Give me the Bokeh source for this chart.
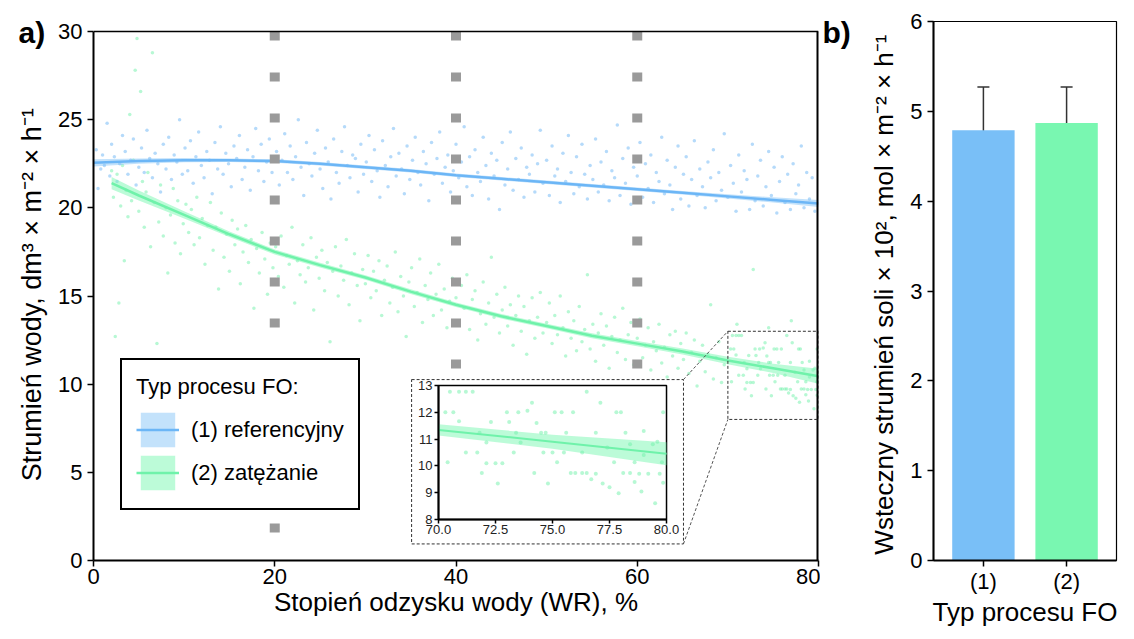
from bokeh.plotting import figure
from bokeh.layouts import row
from bokeh.models import (Range1d, LinearAxis, FixedTicker, PrintfTickFormatter,
                          Legend, LegendItem, Whisker, TeeHead, Title,
                          ColumnDataSource, FactorRange)
from bokeh.embed import file_html
from bokeh.resources import INLINE

FONT = "Liberation Sans"

# ---------------- data ----------------
x_ticks = [0, 20, 40, 60, 80]
y_ticks = [0, 5, 10, 15, 20, 25, 30]
vline_x = [20, 40, 60]

blue_pts = [
    (0.3,23.3),(0.5,21.1),(0.8,22.2),(1.0,23.0),(1.2,22.4),(1.5,24.8),(1.8,21.8),(2.0,23.6),(2.3,22.9),(2.6,21.5),
    (2.9,22.5),(3.2,24.1),(3.5,23.2),(3.8,21.9),(4.1,22.7),(4.4,23.9),(4.7,21.3),(5.0,22.3),(5.3,23.4),(5.6,22.0),
    (5.9,24.4),(6.2,22.8),(6.5,21.7),(6.8,23.1),(7.1,22.5),(7.4,20.9),(7.7,23.6),(8.0,22.2),(8.3,24.0),(8.6,21.6),
    (8.9,23.0),(9.2,22.6),(9.5,25.0),(9.8,21.9),(10.1,23.4),(10.4,22.1),(10.7,23.8),(11.0,21.4),(11.3,22.9),(11.6,24.3),
    (11.9,22.4),(12.2,21.7),(12.5,23.2),(12.8,22.7),(13.1,20.8),(13.4,23.7),(13.7,22.2),(14.0,24.6),(14.3,21.9),(14.6,23.1),
    (14.9,22.5),(15.2,21.2),(15.5,23.5),(15.8,22.8),(16.1,24.1),(16.4,21.6),(16.7,22.3),(17.0,23.3),(17.3,21.0),(17.6,22.9),
    (17.9,24.5),(18.2,22.1),(18.5,23.6),(18.8,21.5),(19.1,22.6),(19.4,23.9),(19.7,22.0),(20.2,23.2),(20.5,21.3),(20.8,22.7),
    (21.1,24.2),(21.4,22.0),(21.7,23.5),(22.0,21.6),(22.3,22.9),(22.6,25.0),(22.9,22.3),(23.2,20.7),(23.5,23.7),(23.8,22.5),
    (24.1,21.8),(24.4,23.1),(24.7,24.4),(25.0,22.2),(25.3,21.1),(25.6,23.4),(25.9,22.6),(26.2,20.5),(26.5,23.9),(26.8,22.0),
    (27.1,21.4),(27.4,23.2),(27.7,24.6),(28.0,22.4),(28.3,21.7),(28.6,23.0),(28.9,22.8),(29.2,20.9),(29.5,23.6),(29.8,21.9),
    (30.1,22.6),(30.4,24.1),(30.7,21.5),(31.0,23.3),(31.3,22.1),(31.6,20.6),(31.9,23.8),(32.2,22.4),(32.5,21.2),(32.8,22.9),
    (33.1,24.5),(33.4,21.8),(33.7,23.1),(34.0,22.2),(34.3,20.8),(34.6,23.5),(34.9,21.6),(35.2,22.7),(35.5,24.0),(35.8,22.0),
    (36.1,21.3),(36.4,23.2),(36.7,22.5),(37.0,20.4),(37.3,23.7),(37.6,21.9),(37.9,22.8),(38.2,24.3),(38.5,21.4),(38.8,22.3),
    (39.1,23.0),(39.4,20.9),(39.7,22.1),(40.0,23.6),(40.3,21.7),(40.6,22.6),(40.9,24.6),(41.2,21.2),(41.5,22.9),(41.8,20.7),
    (42.1,23.3),(42.4,22.0),(42.7,21.5),(43.0,24.0),(43.3,22.4),(43.6,20.5),(43.9,23.1),(44.2,21.8),(44.5,22.7),(44.8,19.9),
    (45.1,23.7),(45.4,21.3),(45.7,22.2),(46.0,24.3),(46.3,21.0),(46.6,22.8),(46.9,21.6),(47.2,23.4),(47.5,20.6),(47.8,22.3),
    (48.1,21.9),(48.4,23.0),(48.7,20.9),(49.0,22.5),(49.3,24.4),(49.6,21.4),(50.0,22.7),(50.3,20.7),(50.6,23.5),(50.9,21.8),
    (51.2,22.2),(51.5,20.3),(51.8,23.1),(52.1,21.5),(52.4,24.1),(52.7,22.0),(53.0,20.8),(53.3,22.9),(53.6,21.2),(53.9,23.6),
    (54.2,21.9),(54.5,20.5),(54.8,22.4),(55.1,21.6),(55.4,23.9),(55.7,20.9),(56.0,22.6),(56.3,21.3),(56.6,23.2),(56.9,20.4),
    (57.2,22.1),(57.5,21.7),(57.8,24.7),(58.1,20.7),(58.4,22.8),(58.7,21.4),(59.0,23.4),(59.3,20.2),(59.6,22.3),(60.0,21.8),
    (60.3,23.7),(60.6,20.6),(60.9,22.5),(61.2,21.1),(61.5,23.0),(61.8,20.3),(62.1,22.0),(62.4,21.5),(62.7,24.0),(63.0,20.8),
    (63.3,22.7),(63.6,21.3),(63.9,19.9),(64.2,22.3),(64.5,23.5),(64.8,20.5),(65.1,21.9),(65.4,22.9),(65.7,20.1),(66.0,21.6),
    (66.3,23.8),(66.6,20.7),(66.9,22.2),(67.2,21.2),(67.5,20.0),(67.8,22.6),(68.1,21.7),(68.4,23.3),(68.7,20.4),(69.0,22.0),
    (69.3,21.0),(69.6,24.2),(70.0,20.6),(70.3,22.4),(70.6,21.4),(70.9,19.8),(71.2,23.0),(71.5,20.9),(71.8,22.1),(72.1,21.6),
    (72.4,19.9),(72.7,23.6),(73.0,20.4),(73.3,21.8),(73.6,22.7),(73.9,20.1),(74.2,21.2),(74.5,23.2),(74.8,20.7),(75.1,22.3),
    (75.4,19.7),(75.7,21.5),(76.0,22.9),(76.3,20.3),(76.6,21.9),(76.9,19.9),(77.2,22.5),(77.5,20.8),(77.8,21.3),(78.1,23.5),
    (78.4,20.0),(78.7,22.0),(79.0,20.5),(79.3,21.7),(79.6,19.8),
]

green_pts = [
    (2.0,22.1),(2.2,20.6),(2.4,12.7),(2.6,21.9),(2.8,14.6),(3.0,20.1),(3.2,22.4),(3.4,17.0),(3.6,21.0),(3.8,19.5),
    (4.0,25.3),(4.2,20.4),(4.4,22.7),(4.6,27.8),(4.8,29.6),(5.0,19.8),(5.2,26.6),(5.4,21.5),(5.6,18.9),(5.8,20.9),
    (6.0,22.0),(6.3,17.8),(6.5,28.8),(6.7,20.3),(7.0,12.3),(7.2,19.2),(7.4,21.3),(7.7,18.4),(8.0,20.0),(8.2,16.3),
    (8.5,19.6),(8.8,21.1),(9.0,18.0),(9.3,20.4),(9.6,17.4),(9.9,19.1),(10.2,20.2),(10.5,18.6),(10.8,19.9),(11.1,17.9),
    (11.4,20.6),(11.7,18.3),(12.0,19.4),(12.3,16.8),(12.6,19.0),(12.9,20.3),(13.2,17.6),(13.5,18.9),(13.8,15.4),(14.1,19.7),
    (14.4,17.2),(14.7,18.5),(15.0,16.4),(15.3,19.3),(15.6,17.9),(15.9,18.8),(16.2,15.7),(16.5,17.5),(16.8,19.0),(17.1,16.9),
    (17.4,18.2),(17.7,14.3),(18.0,17.7),(18.3,16.3),(18.6,18.6),(18.9,17.1),(19.2,15.1),(19.5,18.0),(19.8,16.6),(20.1,17.8),
    (20.4,16.1),(20.7,18.4),(21.0,15.5),(21.3,17.3),(21.6,16.8),(21.9,18.9),(22.2,14.6),(22.5,17.0),(22.8,16.2),(23.1,17.9),
    (23.4,15.8),(23.7,16.6),(24.0,18.3),(24.3,14.2),(24.6,17.2),(24.9,16.0),(25.2,17.6),(25.5,15.3),(25.8,16.9),(26.1,12.4),
    (26.4,16.4),(26.7,17.8),(27.0,15.0),(27.3,16.7),(27.6,15.9),(27.9,18.2),(28.2,14.5),(28.5,16.3),(28.8,17.4),(29.1,15.6),
    (29.4,13.6),(29.7,16.5),(30.0,15.7),(30.3,17.3),(30.6,14.9),(30.9,16.4),(31.2,15.3),(31.5,17.0),(31.8,13.9),(32.1,15.9),
    (32.4,16.7),(32.7,14.6),(33.0,15.5),(33.3,17.5),(33.6,14.1),(33.9,16.1),(34.2,15.0),(34.5,12.7),(34.8,15.8),(35.1,16.6),
    (35.4,14.4),(35.7,15.2),(36.0,17.1),(36.3,13.5),(36.6,15.6),(36.9,14.8),(37.2,16.3),(37.5,13.9),(37.8,15.1),(38.1,16.8),
    (38.4,14.2),(38.7,15.4),(39.0,13.2),(39.3,14.7),(39.6,16.0),(40.0,14.9),(40.3,13.6),(40.6,15.6),(40.9,14.3),(41.2,16.2),
    (41.5,13.1),(41.8,14.8),(42.1,15.3),(42.4,12.5),(42.7,14.0),(43.0,15.8),(43.3,13.4),(43.6,14.6),(43.9,17.2),(44.2,13.8),
    (44.5,15.1),(44.8,12.9),(45.1,14.2),(45.4,15.5),(45.7,13.3),(46.0,14.5),(46.3,12.2),(46.6,13.9),(46.9,15.0),(47.2,13.0),
    (47.5,14.4),(47.8,11.7),(48.1,13.6),(48.4,14.9),(48.7,12.6),(49.0,13.8),(49.3,15.2),(49.6,12.9),(50.0,13.5),(50.3,14.6),
    (50.6,12.3),(50.9,13.9),(51.2,12.8),(51.5,15.0),(51.8,13.2),(52.1,11.6),(52.4,14.1),(52.7,12.6),(53.0,13.6),(53.3,11.9),
    (53.6,14.4),(53.9,12.4),(54.2,13.1),(54.5,16.2),(54.8,12.0),(55.1,13.4),(55.4,11.3),(55.7,12.9),(56.0,14.0),(56.3,12.2),
    (56.6,13.3),(56.9,10.9),(57.2,12.7),(57.5,13.8),(57.8,11.8),(58.1,12.5),(58.4,14.3),(58.7,11.4),(59.0,12.8),(59.3,13.5),
    (59.6,11.1),(60.0,12.6),(60.3,13.7),(60.6,11.5),(60.9,12.2),(61.2,13.2),(61.5,10.8),(61.8,12.4),(62.1,11.9),(62.4,13.4),
    (62.7,11.2),(63.0,12.1),(63.3,10.4),(63.6,12.8),(63.9,11.6),(64.2,13.0),(64.5,10.9),(64.8,12.3),(65.1,11.4),(65.4,12.9),
    (65.7,10.6),(66.0,11.8),(66.3,12.5),(66.6,9.9),(66.9,11.3),(67.2,12.2),(67.5,10.7),(67.8,11.7),(68.1,14.5),(68.4,10.3),
    (68.7,11.5),(69.0,12.4),(69.3,10.1),(69.6,11.1),
    (70.5,12.76),(70.9,12.76),(71.2,12.76),(71.5,12.76),(70.3,12.0),(70.65,12.0),(70.9,11.66),(72.3,11.63),(71.8,11.23),
    (73.0,12.0),(73.5,12.0),(73.9,12.05),(74.1,12.35),(75.1,12.0),(75.4,12.0),(75.9,12.0),(76.5,12.76),(77.1,12.35),
    (77.8,12.0),(78.0,12.0),(79.85,12.0),(74.3,11.6),(73.1,11.63),(73.4,11.23),(74.5,11.23),(74.7,11.23),(75.6,11.23),
    (76.9,11.23),(78.2,11.23),(79.0,11.3),(71.2,10.5),(71.7,10.5),(70.4,10.13),(72.1,10.1),(72.5,10.1),(72.8,10.1),
    (73.3,10.5),(73.6,10.87),(72.1,10.87),(74.6,10.5),(75.0,10.5),(75.8,9.73),(76.0,9.73),(76.3,9.73),(76.5,9.73),
    (76.9,9.7),(77.7,10.13),(78.1,9.73),(78.4,9.73),(78.6,10.13),(78.6,9.4),(78.8,9.7),(79.2,9.7),(79.7,9.7),(71.9,9.73),
    (74.2,9.73),(72.6,9.34),(74.8,9.34),(76.7,9.5),(77.2,9.34),(77.5,9.2),(77.9,8.98),(78.9,9.04),(79.5,8.6),(79.85,9.37),
    (75.5,10.5),(75.2,10.13),(76.3,10.5),(77.4,10.68),(78.4,10.8),(79.4,10.8),(79.6,10.9),(79.8,10.13),(79.0,10.4),
    (72.8,16.5),(71.0,13.4),(74.5,13.2),(77.0,13.6),
]

blue_fit_x = [0, 5, 10, 15, 20, 25, 30, 35, 40, 45, 50, 55, 60, 65, 70, 75, 80]
blue_fit = [22.55, 22.65, 22.70, 22.70, 22.65, 22.50, 22.30, 22.10, 21.85, 21.65, 21.45, 21.25, 21.05, 20.85, 20.65, 20.45, 20.25]
blue_ci = [0.20, 0.15, 0.12, 0.10, 0.10, 0.10, 0.10, 0.10, 0.10, 0.10, 0.10, 0.10, 0.10, 0.10, 0.12, 0.15, 0.20]

green_fit_x = [2, 5, 10, 15, 20, 25, 30, 35, 40, 45, 50, 55, 60, 65, 70, 75, 80]
green_fit = [21.40, 20.70, 19.60, 18.50, 17.50, 16.75, 16.05, 15.25, 14.50, 13.85, 13.30, 12.75, 12.30, 11.85, 11.34, 10.90, 10.45]
green_ci = [0.35, 0.28, 0.20, 0.16, 0.14, 0.13, 0.13, 0.13, 0.13, 0.13, 0.13, 0.14, 0.15, 0.17, 0.21, 0.26, 0.43]

inset_x_ticks = [70, 72.5, 75, 77.5, 80]
inset_y_ticks = [8, 9, 10, 11, 12, 13]

categories = ["(1)", "(2)"]
salt_flux = [4.79, 4.87]
salt_lower = [4.32, 4.47]
salt_upper = [5.27, 5.27]
b_y_ticks = [0, 1, 2, 3, 4, 5, 6]

# ---------------- styles / layout ----------------
BLUE = "#6CB6F6"
GREEN = "#6FF2AA"
BAR_BLUE = "#79BFF7"
BAR_GREEN = "#79F7B1"
GRAY = "#9A9A9A"

BORDER_TOP = 21
FRAME_H = 539            # both panels: frame from y=21 to y=560
BORDER_BOTTOM = 63
A_TOP_GAP = 10           # panel a: value 30 sits 10 px below the frame top
FW_A = 725
FW_B = 183
B_PAD = 0.1
Y_END_A = 30.0 * FRAME_H / (FRAME_H - A_TOP_GAP)

# inset geometry expressed in panel-a data units
INSET_BOX = (38.07, 63.23, 2.33, 9.93)     # left, right, bottom, top of inset frame
OUTER_BOX = (35.10, 65.10, 0.94, 10.26)    # dashed white box around the inset
INS_XD = (70, 80)
INS_YD = (8, 13)

# panel tags: left offset from the frame's left edge, and a negative standoff that sinks them
TAG_A_OFFSET = -75
TAG_B_OFFSET = -111
TAG_STANDOFF = -54


def style_axis(ax, tick_size="22px", label_size="27px"):
    ax.axis_line_color = "black"
    ax.axis_line_width = 2
    ax.major_tick_line_color = "black"
    ax.major_tick_line_width = 1.5
    ax.major_tick_out = 6
    ax.major_tick_in = 0
    ax.minor_tick_line_color = None
    ax.major_label_text_font = FONT
    ax.major_label_text_font_size = tick_size
    ax.major_label_text_color = "black"
    ax.axis_label_text_font = FONT
    ax.axis_label_text_font_size = label_size
    ax.axis_label_text_font_style = "normal"
    ax.axis_label_text_color = "black"


def tag_title(text, offset):
    return Title(text=text, align="left", offset=offset, standoff=TAG_STANDOFF,
                 text_font=FONT, text_font_size="30px", text_font_style="bold",
                 text_color="black")


# ---------------- panel a ----------------
pa = figure(frame_width=FW_A, frame_height=FRAME_H,
            x_range=Range1d(0, 80), y_range=Range1d(0, Y_END_A),
            min_border_left=93, min_border_right=2, min_border_top=BORDER_TOP,
            min_border_bottom=BORDER_BOTTOM,
            output_backend="svg", toolbar_location=None,
            background_fill_color="white", border_fill_color="white")
pa.grid.visible = False
pa.outline_line_color = None

xa = pa.xaxis[0]
ya = pa.yaxis[0]
style_axis(xa, label_size="26px")
style_axis(ya)
xa.ticker = FixedTicker(ticks=x_ticks)
ya.ticker = FixedTicker(ticks=y_ticks)
ya.bounds = (0, 30)
xa.axis_label = "Stopień odzysku wody (WR), %"
ya.axis_label = "Strumień wody,  dm³ × m⁻² × h⁻¹"
xa.major_label_standoff = 2
xa.axis_label_standoff = 0
ya.axis_label_standoff = 8

bx = [p[0] for p in blue_pts]
by = [p[1] for p in blue_pts]
gx = [p[0] for p in green_pts]
gy = [p[1] for p in green_pts]

pa.scatter(bx, by, size=3.5, color=BLUE, alpha=0.5, line_color=None)
pa.scatter(gx, gy, size=3.5, color=GREEN, alpha=0.5, line_color=None)

b_lo = [f - c for f, c in zip(blue_fit, blue_ci)]
b_hi = [f + c for f, c in zip(blue_fit, blue_ci)]
g_lo = [f - c for f, c in zip(green_fit, green_ci)]
g_hi = [f + c for f, c in zip(green_fit, green_ci)]

rb_band = pa.varea(x=blue_fit_x, y1=b_lo, y2=b_hi, fill_color=BAR_BLUE, fill_alpha=0.45)
rg_band = pa.varea(x=green_fit_x, y1=g_lo, y2=g_hi, fill_color=BAR_GREEN, fill_alpha=0.5)
rb_line = pa.line(blue_fit_x, blue_fit, line_color=BLUE, line_width=2.5)
rg_line = pa.line(green_fit_x, green_fit, line_color=GREEN, line_width=2.5)

# grey dotted verticals
pa.segment(x0=vline_x, y0=[30] * len(vline_x), x1=vline_x, y1=[0] * len(vline_x),
           line_color=GRAY, line_width=10, line_dash="9 32", line_cap="butt")

# top and right border of panel a (frame is taller than the 0-30 box)
pa.segment(x0=[0], y0=[30], x1=[80], y1=[30], line_color="black", line_width=1.5)
pa.segment(x0=[80], y0=[0], x1=[80], y1=[30], line_color="black", line_width=4)

# outer dashed box of the inset
pa.quad(left=[OUTER_BOX[0]], right=[OUTER_BOX[1]], bottom=[OUTER_BOX[2]], top=[OUTER_BOX[3]],
        fill_color="white", line_color="#333333", line_width=1, line_dash="3 2")
# zoom rectangle and connectors
pa.quad(left=[INS_XD[0]], right=[INS_XD[1]], bottom=[INS_YD[0]], top=[INS_YD[1]],
        fill_alpha=0, line_color="#333333", line_width=1, line_dash="3 2")
pa.segment(x0=[OUTER_BOX[1], OUTER_BOX[1]], y0=[OUTER_BOX[3], OUTER_BOX[2]],
           x1=[INS_XD[0], INS_XD[0]], y1=[INS_YD[1], INS_YD[0]],
           line_color="#555555", line_width=1, line_dash="3 2")

# inset ranges stretched over the whole frame so that the inset box lands in place
kx = (INS_XD[1] - INS_XD[0]) / (INSET_BOX[1] - INSET_BOX[0])
ky = (INS_YD[1] - INS_YD[0]) / (INSET_BOX[3] - INSET_BOX[2])
pa.extra_x_ranges = {"ix": Range1d(INS_XD[0] - INSET_BOX[0] * kx, INS_XD[0] + (80 - INSET_BOX[0]) * kx)}
pa.extra_y_ranges = {"iy": Range1d(INS_YD[0] - INSET_BOX[2] * ky, INS_YD[0] + (Y_END_A - INSET_BOX[2]) * ky)}

pa.quad(left=[INS_XD[0]], right=[INS_XD[1]], bottom=[INS_YD[0]], top=[INS_YD[1]],
        fill_color="white", line_color="black", line_width=1.5,
        x_range_name="ix", y_range_name="iy")

ins = [i for i, x in enumerate(green_fit_x) if INS_XD[0] <= x <= INS_XD[1]]
pa.varea(x=[green_fit_x[i] for i in ins], y1=[g_lo[i] for i in ins], y2=[g_hi[i] for i in ins],
         fill_color=BAR_GREEN, fill_alpha=0.5, x_range_name="ix", y_range_name="iy")
pa.line([green_fit_x[i] for i in ins], [green_fit[i] for i in ins], line_color=GREEN, line_width=2,
        x_range_name="ix", y_range_name="iy")
sel = [i for i in range(len(gx)) if INS_XD[0] <= gx[i] <= INS_XD[1] and INS_YD[0] <= gy[i] <= INS_YD[1]]
pa.scatter([gx[i] for i in sel], [gy[i] for i in sel], size=4, color=GREEN, alpha=0.5, line_color=None,
           x_range_name="ix", y_range_name="iy")

ix_axis = LinearAxis(x_range_name="ix", y_range_name="iy", fixed_location=INS_YD[0],
                     bounds=INS_XD, ticker=FixedTicker(ticks=inset_x_ticks),
                     formatter=PrintfTickFormatter(format="%.1f"))
iy_axis = LinearAxis(x_range_name="ix", y_range_name="iy", fixed_location=INS_XD[0],
                     bounds=INS_YD, ticker=FixedTicker(ticks=inset_y_ticks))
for ax in (ix_axis, iy_axis):
    style_axis(ax, tick_size="13px")
    ax.major_tick_out = 4
    ax.major_label_standoff = 2
    ax.major_label_text_color = "#222222"
pa.add_layout(ix_axis, "below")
pa.add_layout(iy_axis, "left")

legend = Legend(items=[LegendItem(label="(1) referencyjny", renderers=[rb_band, rb_line]),
                       LegendItem(label="(2) zatężanie", renderers=[rg_band, rg_line])],
                location=(27, 50), title="Typ procesu FO:",
                title_text_font=FONT, title_text_font_size="22px", title_text_font_style="normal",
                title_text_color="black", title_standoff=8,
                label_text_font=FONT, label_text_font_size="22px", label_text_color="black",
                glyph_width=43, glyph_height=43, label_height=43, spacing=0, padding=14,
                label_standoff=12, margin=0,
                border_line_color="black", border_line_width=2, border_line_alpha=1,
                background_fill_color="white", background_fill_alpha=1)
pa.add_layout(legend)

pa.add_layout(tag_title("a)", TAG_A_OFFSET), "above")

# ---------------- panel b ----------------
pb = figure(frame_width=FW_B, frame_height=FRAME_H,
            x_range=FactorRange(factors=categories, range_padding=B_PAD),
            y_range=Range1d(0, 6),
            min_border_left=113, min_border_right=2, min_border_top=BORDER_TOP,
            min_border_bottom=BORDER_BOTTOM,
            output_backend="svg", toolbar_location=None,
            background_fill_color="white", border_fill_color="white")
pb.grid.visible = False
pb.outline_line_color = "black"
pb.outline_line_width = 1.2

xb = pb.xaxis[0]
yb = pb.yaxis[0]
style_axis(xb, label_size="26px")
style_axis(yb, label_size="26px")
yb.ticker = FixedTicker(ticks=b_y_ticks)
xb.axis_label = "Typ procesu FO"
yb.axis_label = "Wsteczny strumień soli  × 10², mol × m⁻² × h⁻¹"
xb.major_label_standoff = 2
xb.axis_label_standoff = 0
yb.axis_label_standoff = 8

src = ColumnDataSource(dict(cat=categories, val=salt_flux, lo=salt_lower, hi=salt_upper,
                            color=[BAR_BLUE, BAR_GREEN]))
pb.vbar(x="cat", top="val", width=0.75, fill_color="color", line_color=None, source=src)
pb.add_layout(Whisker(base="cat", upper="hi", lower="lo", source=src,
                      line_color="#333333", line_width=1.5,
                      upper_head=TeeHead(size=12, line_color="#333333", line_width=1.5),
                      lower_head=TeeHead(size=12, line_color="#333333", line_width=1.5)))

pb.add_layout(tag_title("b)", TAG_B_OFFSET), "above")

layout = row(pa, pb)
open("out.html", "w").write(file_html(layout, INLINE))
